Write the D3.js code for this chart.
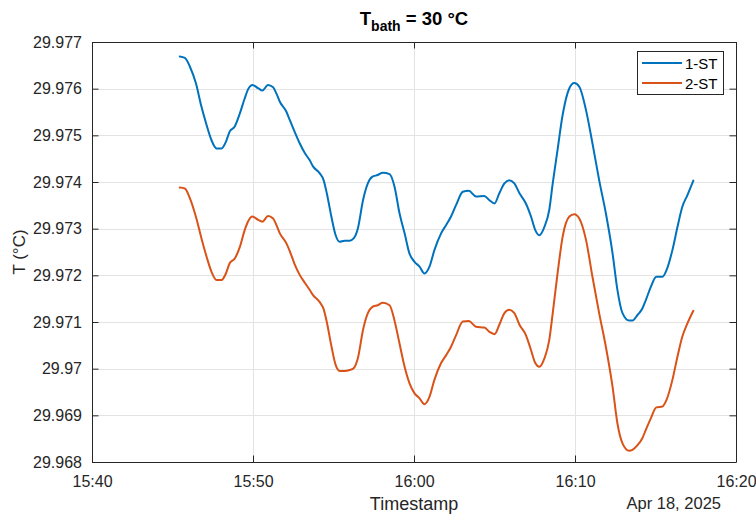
<!DOCTYPE html>
<html>
<head>
<meta charset="utf-8">
<script src="https://cdn.jsdelivr.net/npm/d3@7"></script>
<style>
  html, body { margin: 0; padding: 0; background: #fff; }
  svg { display: block; font-family: "Liberation Sans", Arial, Helvetica, sans-serif; }
</style>
</head>
<body>
<svg id="chart" width="756" height="517"></svg>
<script>
// ---------------- data ----------------
const dateStr = "2025-04-18";
const times = [
  "15:45:27","15:45:46","15:46:05","15:46:27","15:46:48","15:47:07","15:47:25","15:47:44","15:48:03","15:48:19",
  "15:48:33","15:48:52","15:49:11","15:49:29","15:49:42","15:49:58","15:50:19","15:50:35","15:50:56","15:51:15",
  "15:51:27","15:51:40","15:52:04","15:52:17","15:52:35","15:52:54","15:53:13","15:53:31","15:53:43","15:54:08",
  "15:54:23","15:54:35","15:54:52","15:55:08","15:55:23","15:55:41","15:56:00","15:56:15","15:56:31","15:56:50",
  "15:57:08","15:57:24","15:57:45","15:58:04","15:58:29","15:58:47","15:59:06","15:59:25","15:59:43","16:00:02",
  "16:00:20","16:00:39","16:00:58","16:01:16","16:01:41","16:02:00","16:02:18","16:02:37","16:03:02","16:03:24",
  "16:03:51","16:04:22","16:04:41","16:05:00","16:05:18","16:05:37","16:05:55","16:06:14","16:06:33","16:06:57",
  "16:07:16","16:07:32","16:07:47","16:08:06","16:08:24","16:08:37","16:08:55","16:09:14","16:09:39","16:09:57",
  "16:10:16","16:10:41","16:11:05","16:11:30","16:11:55","16:12:20","16:12:38","16:12:57","16:13:22","16:13:34",
  "16:13:53","16:14:11","16:14:24","16:14:43","16:15:03","16:15:26","16:15:41","16:16:03","16:16:22","16:16:40",
  "16:16:59","16:17:21"
];
const st1 = [
  29.97669,29.97666,29.97647,29.97612,29.97561,29.97522,29.97490,29.97472,29.97472,29.97486,
  29.97508,29.97519,29.97547,29.97579,29.97599,29.97608,29.97601,29.97596,29.97608,29.97603,
  29.97590,29.97572,29.97551,29.97533,29.97508,29.97483,29.97462,29.97447,29.97434,29.97419,
  29.97404,29.97376,29.97326,29.97286,29.97272,29.97274,29.97274,29.97279,29.97301,29.97361,
  29.97397,29.97411,29.97415,29.97420,29.97417,29.97391,29.97333,29.97290,29.97247,29.97229,
  29.97219,29.97204,29.97219,29.97254,29.97290,29.97308,29.97326,29.97351,29.97379,29.97381,
  29.97369,29.97370,29.97361,29.97354,29.97376,29.97397,29.97404,29.97397,29.97376,29.97354,
  29.97326,29.97297,29.97286,29.97304,29.97340,29.97397,29.97469,29.97544,29.97601,29.97612,
  29.97604,29.97554,29.97483,29.97404,29.97333,29.97247,29.97169,29.97119,29.97103,29.97103,
  29.97115,29.97129,29.97147,29.97176,29.97197,29.97197,29.97211,29.97254,29.97304,29.97347,
  29.97372,29.97403
];
const st2 = [
  29.97388,29.97386,29.97365,29.97326,29.97279,29.97240,29.97208,29.97190,29.97190,29.97204,
  29.97226,29.97236,29.97261,29.97297,29.97316,29.97326,29.97319,29.97315,29.97327,29.97322,
  29.97308,29.97290,29.97269,29.97252,29.97224,29.97201,29.97184,29.97169,29.97158,29.97143,
  29.97128,29.97100,29.97049,29.97008,29.96995,29.96995,29.96997,29.97001,29.97023,29.97083,
  29.97119,29.97132,29.97136,29.97141,29.97136,29.97104,29.97054,29.97004,29.96969,29.96947,
  29.96937,29.96924,29.96940,29.96976,29.97012,29.97029,29.97047,29.97072,29.97101,29.97102,
  29.97090,29.97088,29.97079,29.97074,29.97094,29.97119,29.97126,29.97119,29.97094,29.97072,
  29.97040,29.97012,29.97004,29.97022,29.97061,29.97119,29.97204,29.97283,29.97326,29.97331,
  29.97322,29.97276,29.97197,29.97119,29.97047,29.96961,29.96883,29.96840,29.96824,29.96826,
  29.96836,29.96851,29.96869,29.96894,29.96917,29.96919,29.96933,29.96976,29.97026,29.97069,
  29.97097,29.97124
];
const seriesNames = ["1-ST", "2-ST"];
const seriesColors = ["#0072BD", "#D95319"];
const xDomain = ["15:40:00", "16:20:00"];
const xTickTimes = ["15:40:00", "15:50:00", "16:00:00", "16:10:00", "16:20:00"];
const yTicks = [29.968, 29.969, 29.970, 29.971, 29.972, 29.973, 29.974, 29.975, 29.976, 29.977];
const yTickLabels = ["29.968", "29.969", "29.97", "29.971", "29.972", "29.973", "29.974", "29.975", "29.976", "29.977"];
const yDomain = [29.968, 29.977];
const dateLabel = "Apr 18, 2025";
const xLabel = "Timestamp";
const yLabel = "T (°C)";

// ---------------- layout ----------------
const margin = { left: 92, right: 20, top: 42, bottom: 55 };
const W = 756, H = 517;
const iw = W - margin.left - margin.right;   // 644
const ih = H - margin.top - margin.bottom;   // 420
const axisColor = "#262626";
const gridColor = "#e3e3e3";

const parse = d3.timeParse("%Y-%m-%d %H:%M:%S");
const toDate = t => parse(dateStr + " " + t);

const x = d3.scaleTime().domain(xDomain.map(toDate)).range([0, iw]);
const y = d3.scaleLinear().domain(yDomain).range([ih, 0]);

const svg = d3.select("#chart");
const g = svg.append("g").attr("transform", `translate(${margin.left},${margin.top})`);

g.append("rect").attr("width", iw).attr("height", ih).attr("fill", "#fff");

// grid
const xTicks = xTickTimes.map(toDate);
g.append("g").selectAll("line").data(xTicks).join("line")
  .attr("x1", d => Math.round(x(d)) + 0.5).attr("x2", d => Math.round(x(d)) + 0.5)
  .attr("y1", 0).attr("y2", ih)
  .attr("stroke", gridColor).attr("stroke-width", 1);
g.append("g").selectAll("line").data(yTicks).join("line")
  .attr("y1", d => Math.round(y(d)) + 0.5).attr("y2", d => Math.round(y(d)) + 0.5)
  .attr("x1", 0).attr("x2", iw)
  .attr("stroke", gridColor).attr("stroke-width", 1);

// series
const series = [st1, st2].map((vals, i) => ({
  name: seriesNames[i], color: seriesColors[i],
  pts: times.map((t, j) => ({ t: toDate(t), v: vals[j] }))
}));
const line = d3.line().x(d => x(d.t)).y(d => y(d.v)).curve(d3.curveMonotoneX);
g.append("g").selectAll("path").data(series).join("path")
  .attr("d", d => line(d.pts))
  .attr("fill", "none")
  .attr("stroke", d => d.color)
  .attr("stroke-width", 2)
  .attr("stroke-linejoin", "round")
  .attr("stroke-linecap", "round");

// axes (MATLAB style: inward ticks on all sides)
const tickLen = 6.5;
const fmtX = d3.timeFormat("%H:%M");
const xAxisB = d3.axisBottom(x).tickValues(xTicks).tickFormat(fmtX).tickSizeInner(-tickLen).tickSizeOuter(0).tickPadding(14);
const xAxisT = d3.axisTop(x).tickValues(xTicks).tickFormat("").tickSizeInner(-tickLen).tickSizeOuter(0);
const yAxisL = d3.axisLeft(y).tickValues(yTicks).tickFormat((d, i) => yTickLabels[i]).tickSizeInner(-tickLen).tickSizeOuter(0).tickPadding(10);
const yAxisR = d3.axisRight(y).tickValues(yTicks).tickFormat("").tickSizeInner(-tickLen).tickSizeOuter(0);

function styleAxis(sel) {
  sel.selectAll("path").attr("stroke", axisColor).attr("stroke-width", 1);
  sel.selectAll("line").attr("stroke", axisColor).attr("stroke-width", 1);
  sel.selectAll("text").attr("fill", axisColor).style("font-family", '"Liberation Sans", Arial, sans-serif');
}
const gxb = g.append("g").attr("transform", `translate(0,${ih})`).call(xAxisB).call(styleAxis);
gxb.selectAll("text").style("font-size", "16px");
g.append("g").call(xAxisT).call(styleAxis);
const gyl = g.append("g").call(yAxisL).call(styleAxis);
gyl.selectAll("text").style("font-size", "16px");
g.append("g").attr("transform", `translate(${iw},0)`).call(yAxisR).call(styleAxis);

// axis labels
svg.append("text")
  .attr("x", margin.left + iw / 2).attr("y", 510)
  .attr("text-anchor", "middle").attr("fill", axisColor)
  .style("font-size", "18px").text(xLabel);
svg.append("text")
  .attr("x", 721).attr("y", 509)
  .attr("text-anchor", "end").attr("fill", axisColor)
  .style("font-size", "16.5px").text(dateLabel);
svg.append("text")
  .attr("transform", `translate(25,${margin.top + ih / 2}) rotate(-90)`)
  .attr("text-anchor", "middle").attr("fill", axisColor)
  .style("font-size", "17px").text(yLabel);

// title
const title = svg.append("text")
  .attr("x", margin.left + iw / 2).attr("y", 25)
  .attr("text-anchor", "middle").attr("fill", "#000")
  .style("font-size", "18.5px").style("font-weight", "bold");
title.append("tspan").text("T");
title.append("tspan").attr("dy", 6).style("font-size", "14px").text("bath");
title.append("tspan").attr("dy", -6).text(" = 30 °C");

// legend
const leg = svg.append("g").attr("transform", "translate(637.5,51.5)");
leg.append("rect").attr("width", 86).attr("height", 43)
  .attr("fill", "#fff").attr("stroke", axisColor).attr("stroke-width", 1);
const items = leg.selectAll("g.item").data(series).join("g")
  .attr("transform", (d, i) => `translate(0,${11.5 + i * 20})`);
items.append("line").attr("x1", 4.5).attr("x2", 44.5).attr("y1", 0).attr("y2", 0)
  .attr("stroke", d => d.color).attr("stroke-width", 2);
items.append("text").attr("x", 47.5).attr("y", 5.5)
  .attr("fill", "#000").style("font-size", "15px").text(d => d.name);
</script>
</body>
</html>
